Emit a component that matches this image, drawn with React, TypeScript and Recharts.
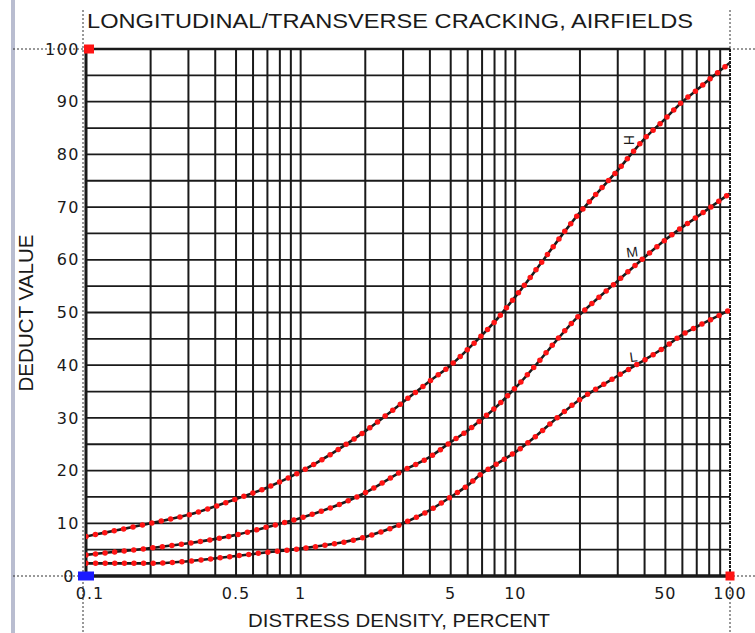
import React from 'react';
import { ComposedChart, Line, XAxis, YAxis, ReferenceLine, ReferenceDot } from 'recharts';

// Distress density (percent), log scale
const densities = [0.1, 0.2, 0.3, 0.5, 0.7, 1, 2, 3, 4, 5, 6, 7, 8, 10, 20, 30, 40, 50, 60, 70, 80, 100];
// Deduct values
const highValues = [7.5, 10.0, 11.6, 14.6, 16.8, 19.8, 27.5, 33.0, 37.0, 40.0, 43.0, 45.7, 48.2, 53.0, 69.0, 77.0, 83.0, 86.8, 90.0, 92.2, 94.2, 97.4];
const mediumValues = [4.0, 5.3, 6.2, 7.8, 9.3, 11.0, 15.8, 20.0, 22.6, 25.4, 27.6, 29.8, 31.8, 35.7, 49.6, 56.0, 60.5, 63.8, 66.2, 68.1, 69.8, 72.6];
const lowValues = [2.4, 2.4, 2.8, 3.8, 4.5, 5.2, 7.4, 10.0, 12.5, 15.0, 17.2, 19.5, 21.0, 23.5, 33.5, 38.0, 41.0, 43.5, 45.8, 47.3, 48.5, 50.5];

const xTicks = [0.1, 0.5, 1, 5, 10, 50, 100];
const yTicks = [0, 10, 20, 30, 40, 50, 60, 70, 80, 90, 100];
const xGrid = [0.2, 0.3, 0.4, 0.5, 0.6, 0.7, 0.8, 0.9, 1, 2, 3, 4, 5, 6, 7, 8, 9, 10, 20, 30, 40, 50, 60, 70, 80, 90];
const yGrid = [5, 10, 15, 20, 25, 30, 35, 40, 45, 50, 55, 60, 65, 70, 75, 80, 85, 90, 95];

const curveNames = ['H', 'M', 'L'];
const labelX = [34, 35, 35.5];
const labelY = [82.7, 61.5, 41.6];

const TITLE = 'LONGITUDINAL/TRANSVERSE CRACKING, AIRFIELDS';
const X_LABEL = 'DISTRESS DENSITY, PERCENT';
const Y_LABEL = 'DEDUCT VALUE';

const data = densities.map((d, i) => ({
  d,
  H: highValues[i],
  M: mediumValues[i],
  L: lowValues[i],
}));

const INK = '#1a1a1a';
const RED = '#ff1414';
const FONT = '"DejaVu Sans", "Liberation Sans", sans-serif';
const LFONT = '"Liberation Sans", Arial, sans-serif';

const hGuide = (p: any) => (
  <line x1={p.x1 - 73} y1={p.y1} x2={p.x2 + 25} y2={p.y2} stroke="#333" strokeWidth={1} strokeDasharray="2 2" />
);
const vGuide = (p: any) => (
  <line x1={p.x1 - 3} y1={10} x2={p.x2 - 3} y2={633} stroke="#333" strokeWidth={1} strokeDasharray="2 2" />
);
const vGuideRight = (p: any) => (
  <line x1={p.x1} y1={10} x2={p.x2} y2={633} stroke="#333" strokeWidth={1} strokeDasharray="2 2" />
);

const XTick = (p: any) => {
  const v = p.payload.value;
  return (
    <text
      x={p.x + (v === 0.1 ? 4 : 0)}
      y={p.y}
      dy="0.71em"
      textAnchor="middle"
      fontSize={16}
      fontFamily={FONT}
      fill={INK}
      letterSpacing={1}
    >
      {String(v)}
    </text>
  );
};

const YTick = (p: any) => {
  const v = p.payload.value;
  return (
    <text x={p.x - (v === 0 ? 5 : 0)} y={p.y} dy="0.355em" textAnchor="end" fontSize={16} fontFamily={FONT} fill={INK} letterSpacing={1.5}>
      {String(v)}
    </text>
  );
};

export default function App() {
  return (
    <div style={{ position: 'absolute', left: 0, top: 0, width: 755, height: 633, background: '#fff' }}>
      <div style={{ position: 'absolute', left: 11, top: 0, width: 4, height: 633, background: '#b9bdd0' }} />
      <ComposedChart width={755} height={633} data={data} margin={{ top: 49, right: 25, bottom: 0, left: 0 }}>
        <XAxis
          dataKey="d"
          type="number"
          scale="log"
          domain={[0.1, 100]}
          allowDataOverflow
          ticks={xTicks}
          interval={0}
          height={57}
          tickLine={false}
          axisLine={false}
          tickSize={0}
          tickMargin={12}
          tick={<XTick />}
        />
        <YAxis
          type="number"
          domain={[0, 100]}
          ticks={yTicks}
          interval={0}
          width={86}
          tickLine={false}
          axisLine={false}
          tickSize={0}
          tickMargin={6}
          tick={<YTick />}
        />
        {xGrid.map((v) => (
          <ReferenceLine key={'vx' + v} x={v} stroke={INK} strokeWidth={2} />
        ))}
        {yGrid.map((v) => (
          <ReferenceLine key={'hy' + v} y={v} stroke={INK} strokeWidth={1.8} />
        ))}
        <ReferenceLine y={100} shape={hGuide} />
        <ReferenceLine y={0} shape={hGuide} />
        <ReferenceLine x={0.1} shape={vGuide} />
        <ReferenceLine x={100} shape={vGuideRight} />
        <ReferenceLine y={0} stroke={INK} strokeWidth={3.5} />
        <ReferenceLine y={100} stroke={INK} strokeWidth={2.5} />
        <ReferenceLine x={0.1} stroke={INK} strokeWidth={3} />
        <ReferenceLine x={100} stroke={INK} strokeWidth={2} strokeDasharray="3 1" />
        {curveNames.map((k) => (
          <Line key={'b' + k} dataKey={k} type="monotone" stroke={INK} strokeWidth={2.6} dot={false} activeDot={false} isAnimationActive={false} />
        ))}
        {curveNames.map((k) => (
          <Line key={'r' + k} dataKey={k} type="monotone" stroke={RED} strokeWidth={5.5} strokeLinecap="round" strokeDasharray="0 9.6" dot={false} activeDot={false} isAnimationActive={false} />
        ))}
        {curveNames.map((k, i) => (
          <ReferenceDot
            key={'lab' + k}
            x={labelX[i]}
            y={labelY[i]}
            r={0}
            shape={(p: any) => (
              <text
                x={p.cx}
                y={p.cy}
                textAnchor="middle"
                dominantBaseline="central"
                fontSize={14}
                fontFamily={LFONT}
                fill={INK}
                transform={k === 'H' ? `rotate(90 ${p.cx} ${p.cy})` : `rotate(-8 ${p.cx} ${p.cy})`}
              >
                {k}
              </text>
            )}
          />
        ))}
        <ReferenceDot x={0.1} y={100} r={0} shape={(p: any) => <rect x={p.cx - 2} y={p.cy - 4.5} width={10} height={9} fill={RED} />} />
        <ReferenceDot x={100} y={0} r={0} shape={(p: any) => <rect x={p.cx - 4.5} y={p.cy - 4.5} width={9} height={9} fill={RED} />} />
        <ReferenceDot x={0.1} y={0} r={0} shape={(p: any) => (
          <g>
            <rect x={p.cx - 8} y={p.cy - 4.5} width={8} height={9} fill="#1a1aff" />
            <rect x={p.cx} y={p.cy - 4.5} width={8} height={9} fill="#1a1aff" />
          </g>
        )} />
      </ComposedChart>
      <svg width={755} height={633} style={{ position: 'absolute', left: 0, top: 0, pointerEvents: 'none' }}>
        <text x={87} y={28} fontSize={21} fontFamily={LFONT} fill={INK} textLength={606} lengthAdjust="spacingAndGlyphs">
          {TITLE}
        </text>
        <text x={248} y={627} fontSize={19} fontFamily={LFONT} fill={INK} textLength={302} lengthAdjust="spacingAndGlyphs">
          {X_LABEL}
        </text>
        <text
          x={33}
          y={313}
          fontSize={21}
          fontFamily={LFONT}
          fill={INK}
          textAnchor="middle"
          textLength={157}
          lengthAdjust="spacingAndGlyphs"
          transform="rotate(-90 33 313)"
        >
          {Y_LABEL}
        </text>
      </svg>
    </div>
  );
}
